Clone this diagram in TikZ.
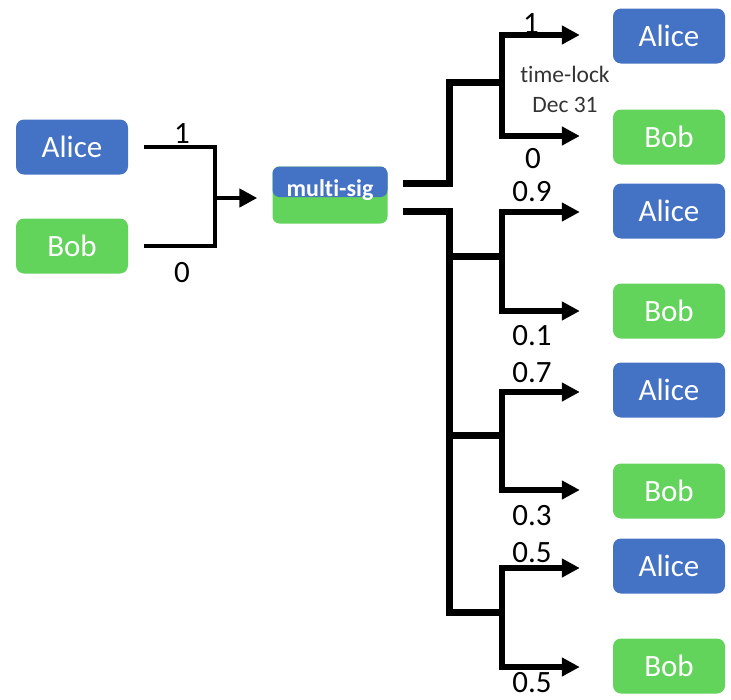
\documentclass[tikz,border=0pt]{standalone}
\usepackage{fontspec}
\setmainfont{Carlito}[Ligatures={NoCommon}]
\usetikzlibrary{arrows.meta}
\definecolor{ablue}{HTML}{4472C4}
\definecolor{bgreen}{HTML}{62D35B}
\begin{document}
\begin{tikzpicture}[x=1pt,y=-1pt,
  box/.style={rounded corners=8pt, minimum width=112pt, minimum height=55pt, inner sep=0pt,
    text=white, font=\fontsize{31}{33}\selectfont},
  abox/.style={box, fill=ablue},
  bbox/.style={box, fill=bgreen},
  msbox/.style={rounded corners=7pt, minimum width=115pt, minimum height=57pt, inner sep=0pt,
    fill=bgreen, text=white, font=\fontsize{24}{26}\selectfont\bfseries,
    text height=17pt, text depth=15pt,
    path picture={\fill[ablue] (path picture bounding box.north west) rectangle ([yshift=-2pt]path picture bounding box.east);}},
  lwire/.style={line width=4.5pt},
  trunk/.style={line width=7pt},
  sub/.style={line width=5.5pt},
  arr/.style={-{Triangle[length=18pt,width=18pt]}},
  lbl/.style={anchor=base, inner sep=1pt, font=\fontsize{31}{33}\selectfont},
  note/.style={anchor=base, inner sep=1pt, font=\fontsize{23.5}{25}\selectfont, text=black!80}]
\useasboundingbox (0,0) rectangle (731,699);

% left boxes
\node[abox] (la) at (72,147) {Alice};
\node[bbox] (lb) at (72,246) {Bob};
% multi-sig
\node[msbox] (ms) at (330,195) {multi-sig};
% right boxes
\node[abox] (ra1) at (669,36) {Alice};
\node[bbox] (rb1) at (669,137) {Bob};
\node[abox] (ra2) at (669,211) {Alice};
\node[bbox] (rb2) at (669,311) {Bob};
\node[abox] (ra3) at (669,390) {Alice};
\node[bbox] (rb3) at (669,491) {Bob};
\node[abox] (ra4) at (669,566) {Alice};
\node[bbox] (rb4) at (669,666) {Bob};

% junction coordinates
\coordinate (j0) at (215,198);
\coordinate (tj) at (502,82);
\coordinate (t2) at (449,256);
\coordinate (t3) at (449,435);
\coordinate (t4) at (449,612);
\coordinate (j2) at (502,256);
\coordinate (j3) at (502,435);
\coordinate (j4) at (502,612);

% left combiner
\draw[lwire] ([xshift=16pt]la.east) -| (j0);
\draw[lwire] ([xshift=16pt]lb.east) -| (j0);
\draw[lwire,arr,shorten >=15pt] (j0) -- (ms.west |- j0);

% upper branch (time-lock)
\draw[trunk] ([shift={(15,-12)}]ms.east) -| (449,82) -- (tj);
\draw[sub,arr] (tj) |- ([shift={(-33,-1)}]ra1.west);
\draw[sub,arr] (tj) |- ([shift={(-33,-1)}]rb1.west);

% lower trunk
\draw[trunk] ([shift={(15,16)}]ms.east) -| (t4) -- (j4);
\draw[trunk] (t2) -- (j2);
\draw[trunk] (t3) -- (j3);

\draw[sub,arr] (j2) |- ([shift={(-33,1)}]ra2.west);
\draw[sub,arr] (j2) |- ([xshift=-33pt]rb2.west);
\draw[sub,arr] (j3) |- ([shift={(-33,2)}]ra3.west);
\draw[sub,arr] (j3) |- ([shift={(-33,-1)}]rb3.west);
\draw[sub,arr] (j4) |- ([shift={(-33,2)}]ra4.west);
\draw[sub,arr] (j4) |- ([shift={(-33,1)}]rb4.west);

% labels
\node[lbl] at (182,143) {1};
\node[lbl] at (182,282) {0};
\node[lbl] at (531,33) {1};
\node[lbl] at (533,168) {0};
\node[note] at (565,82) {time-lock};
\node[note] at (565,112) {Dec 31};
\node[lbl] at (532,201) {0.9};
\node[lbl] at (532,345) {0.1};
\node[lbl] at (532,382) {0.7};
\node[lbl] at (532,525) {0.3};
\node[lbl] at (532,562) {0.5};
\node[lbl] at (532,692) {0.5};
\end{tikzpicture}
\end{document}
